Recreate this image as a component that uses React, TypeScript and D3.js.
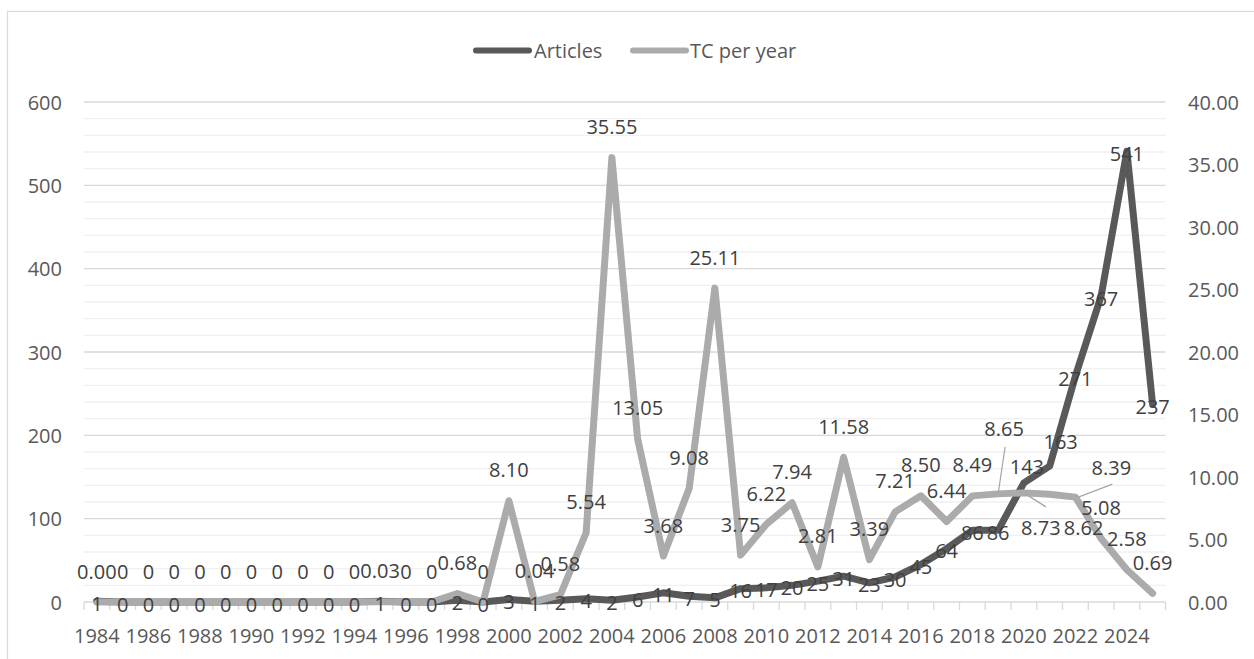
import React from "react";
import * as d3 from "d3";

// Publication years (categories on the x axis)
const years: number[] = [
  1984, 1985, 1986, 1987, 1988, 1989, 1990, 1991, 1992, 1993, 1994, 1995, 1996, 1997,
  1998, 1999, 2000, 2001, 2002, 2003, 2004, 2005, 2006, 2007, 2008, 2009, 2010, 2011,
  2012, 2013, 2014, 2015, 2016, 2017, 2018, 2019, 2020, 2021, 2022, 2023, 2024, 2025,
];

// Number of articles per year (left axis)
const articles: number[] = [
  1, 0, 0, 0, 0, 0, 0, 0, 0, 0, 0, 1, 0, 0,
  2, 0, 3, 1, 2, 4, 2, 6, 11, 7, 5, 16, 17, 20,
  25, 31, 23, 30, 45, 64, 86, 86, 143, 163, 271, 367, 541, 237,
];

// Mean total citations per year (right axis)
const tcPerYear: number[] = [
  0, 0, 0, 0, 0, 0, 0, 0, 0, 0, 0, 0.03, 0, 0,
  0.68, 0, 8.1, 0.04, 0.58, 5.54, 35.55, 13.05, 3.68, 9.08, 25.11, 3.75, 6.22, 7.94,
  2.81, 11.58, 3.39, 7.21, 8.5, 6.44, 8.49, 8.65, 8.73, 8.62, 8.39, 5.08, 2.58, 0.69,
];

// Axis tick values
const leftTicks: number[] = [0, 100, 200, 300, 400, 500, 600];
const rightTicks: number[] = [0, 5, 10, 15, 20, 25, 30, 35, 40];
const xLabelYears: number[] = [
  1984, 1986, 1988, 1990, 1992, 1994, 1996, 1998, 2000, 2002, 2004,
  2006, 2008, 2010, 2012, 2014, 2016, 2018, 2020, 2022, 2024,
];

const W = 1254;
const H = 659;
const FONT = "'Open Sans', 'DejaVu Sans', sans-serif";
const DARK = "#595959";
const LIGHT = "#ababab";
const LABEL = "#404040";
const AXIS_TEXT = "#595959";
const GRID_MAJOR = "#d9d9d9";
const GRID_MINOR = "#f0f0f0";

// Hand-placed data labels (offsets from the default position) for the crowded 2019–2022 region
const tcLabelShift: Record<number, { dx: number; dy: number; leader?: [number, number, number, number] }> = {
  2019: { dx: 6, dy: -34, leader: [1, 18, 0, 0] },
  2020: { dx: 17, dy: 66, leader: [5, -21, 0, 0] },
  2021: { dx: 34, dy: 64 },
  2022: { dx: 36, dy: 1, leader: [1, 17, 3, 0] },
};
const articleLabelShift: Record<number, { dx: number; dy: number }> = {
  2020: { dx: 3, dy: -18 },
  2021: { dx: 11, dy: -27 },
};

export default function App() {
  const left = 84;
  const right = 1165.5;
  const top = 102;
  const bottom = 602;

  const x = d3.scaleBand<number>().domain(years).range([left, right]).padding(0);
  const cx = (yr: number) => (x(yr) as number) + x.bandwidth() / 2;
  const yL = d3.scaleLinear().domain([0, 600]).range([bottom, top]);
  const yR = d3.scaleLinear().domain([0, 40]).range([bottom, top]);

  const artLine = d3
    .line<number>()
    .x((_, i) => cx(years[i]))
    .y((d) => yL(d));
  const tcLine = d3
    .line<number>()
    .x((_, i) => cx(years[i]))
    .y((d) => yR(d));

  const gridValues = d3.range(0, 601, 20);
  const fmt2 = d3.format(".2f");
  const tcText = (i: number) => (articles[i] === 0 ? "0" : fmt2(tcPerYear[i]));

  return (
    <svg
      width={W}
      height={H}
      style={{ position: "absolute", left: 0, top: 0, background: "#fff" }}
      fontFamily={FONT}
    >
      <rect x={0} y={0} width={W} height={H} fill="#fff" />
      <rect x={7.5} y={11.5} width={W + 10} height={H + 10} fill="none" stroke="#d9d9d9" strokeWidth={1.2} />

      {/* gridlines */}
      {gridValues.map((v) => (
        <line
          key={"g" + v}
          x1={left}
          x2={right}
          y1={yL(v)}
          y2={yL(v)}
          stroke={v % 100 === 0 ? GRID_MAJOR : GRID_MINOR}
          strokeWidth={1.3}
        />
      ))}

      {/* category tick marks */}
      {years.concat([0]).map((yr, k) => {
        const xx = left + x.bandwidth() * k;
        return <line key={"t" + k} x1={xx} x2={xx} y1={bottom} y2={bottom + 8} stroke={GRID_MAJOR} strokeWidth={1.3} />;
      })}

      {/* left axis labels */}
      {leftTicks.map((v) => (
        <text key={"l" + v} x={62} y={yL(v)} textAnchor="end" dominantBaseline="central" fontSize={20} fill={AXIS_TEXT}>
          {v}
        </text>
      ))}

      {/* right axis labels */}
      {rightTicks.map((v) => (
        <text key={"r" + v} x={1188} y={yR(v)} textAnchor="start" dominantBaseline="central" fontSize={20} fill={AXIS_TEXT}>
          {fmt2(v)}
        </text>
      ))}

      {/* x axis labels */}
      {xLabelYears.map((yr) => (
        <text key={"x" + yr} x={cx(yr)} y={635} textAnchor="middle" dominantBaseline="central" fontSize={20} fill={AXIS_TEXT}>
          {yr}
        </text>
      ))}

      {/* series */}
      <path d={artLine(articles) || ""} fill="none" stroke={DARK} strokeWidth={7} strokeLinejoin="round" strokeLinecap="round" />
      <path d={tcLine(tcPerYear) || ""} fill="none" stroke={LIGHT} strokeWidth={7} strokeLinejoin="round" strokeLinecap="round" />

      {/* leader lines */}
      {years.map((yr, i) => {
        const s = tcLabelShift[yr];
        if (!s || !s.leader) return null;
        const px = cx(yr);
        const py = yR(tcPerYear[i]);
        const lx = px + s.dx;
        const ly = py - 31 + s.dy;
        return (
          <line
            key={"ll" + yr}
            x1={lx + s.leader[0]}
            y1={ly + s.leader[1]}
            x2={px + s.leader[2]}
            y2={py + s.leader[3]}
            stroke="#a6a6a6"
            strokeWidth={1.2}
          />
        );
      })}

      {/* article labels (centered on points) */}
      {years.map((yr, i) => {
        const s = articleLabelShift[yr] || { dx: 0, dy: 0 };
        return (
          <text
            key={"a" + yr}
            x={cx(yr) + s.dx}
            y={yL(articles[i]) + 2 + s.dy}
            textAnchor="middle"
            dominantBaseline="central"
            fontSize={20}
            fill={LABEL}
          >
            {articles[i]}
          </text>
        );
      })}

      {/* TC per year labels (above points) */}
      {years.map((yr, i) => {
        const s = tcLabelShift[yr] || { dx: 0, dy: 0 };
        return (
          <text
            key={"c" + yr}
            x={cx(yr) + s.dx}
            y={yR(tcPerYear[i]) - 31 + s.dy}
            textAnchor="middle"
            dominantBaseline="central"
            fontSize={20}
            fill={LABEL}
          >
            {tcText(i)}
          </text>
        );
      })}

      {/* legend */}
      <g>
        <line x1={476} x2={529} y1={50.5} y2={50.5} stroke={DARK} strokeWidth={6} strokeLinecap="round" />
        <text x={534} y={50.5} dominantBaseline="central" fontSize={20} fill={AXIS_TEXT}>
          Articles
        </text>
        <line x1={633} x2={686} y1={50.5} y2={50.5} stroke={LIGHT} strokeWidth={6} strokeLinecap="round" />
        <text x={690} y={50.5} dominantBaseline="central" fontSize={20} fill={AXIS_TEXT}>
          TC per year
        </text>
      </g>
    </svg>
  );
}
